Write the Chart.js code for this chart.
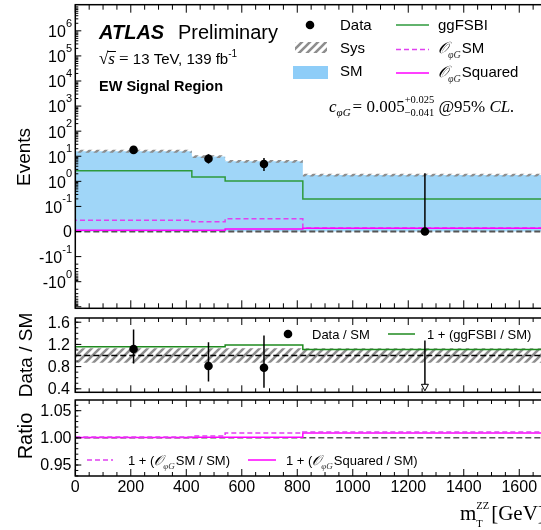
<!DOCTYPE html>
<html>
<head>
<meta charset="utf-8">
<script src="https://cdn.jsdelivr.net/npm/chart.js@4.4.1/dist/chart.umd.min.js"></script>
<style>
html, body { margin: 0; padding: 0; background: #fff; overflow: hidden; width: 541px; height: 530px; }
canvas { position: absolute; left: 0; top: 0; }
</style>
</head>
<body>
<canvas id="topPanel" width="600" height="530"></canvas>
<canvas id="midPanel" width="600" height="530"></canvas>
<canvas id="botPanel" width="600" height="530"></canvas>
<script>
// bins of m_T^ZZ [GeV]
const binEdges = [0, 420, 540, 820, 1700];
const binCenters = [210, 480, 680, 1260];

// top panel, events
const dataEvents = [17.9, 7.9, 4.9, 0];
const dataErrUp = [5.6, 4.2, 3.7, 2.1];
const dataErrDown = [4.2, 2.7, 2.3, 0];
const smEvents = [16.0, 9.8, 6.3, 1.79];
const ggFSBI = [2.65, 1.49, 1.03, 0.197];
const opgSM = [0.045, 0.039, 0.051, 0.014];
const opgSquared = [0.005, 0.005, 0.010, 0.013];
const sysRel = [0.13, 0.13, 0.13, 0.13];

// middle panel, data / SM
const ratioData = [1.117, 0.81, 0.78, 0];
const ratioErrUp = [0.35, 0.43, 0.58, 1.27];
const ratioErrDown = [0.26, 0.28, 0.36, 0];
const ratioGG = [1.16, 1.16, 1.19, 1.11];

// bottom panel
const ratioOpgSM = [1.0015, 1.0033, 1.0088, 1.0107];
const ratioOpgSq = [1.0008, 1.0012, 1.0012, 1.0088];

// ticks
const xMajor = [0, 200, 400, 600, 800, 1000, 1200, 1400, 1600];
const xMinorStep = 50;
const topYTicks = [-1, -0.1, 0, 0.1, 1, 10, 100, 1e3, 1e4, 1e5, 1e6];
const topYLabels = ['-10^0', '-10^-1', '0', '10^-1', '10^0', '10^1', '10^2', '10^3', '10^4', '10^5', '10^6'];
const midYTicks = [0.4, 0.8, 1.2, 1.6];
const midYLabels = ['0.4', '0.8', '1.2', '1.6'];
const botYTicks = [0.95, 1.0, 1.05];
const botYLabels = ['0.95', '1.00', '1.05'];

const SANS = '"Liberation Sans", Arial, sans-serif';
const SERIF = '"Liberation Serif", "Times New Roman", serif';
const fa = (px, st = '') => st + ' ' + px + 'px ' + SANS;
const fr = (px, st = '') => st + ' ' + px + 'px ' + SERIF;

const GREEN = '#2e9a3c';
const MAG = '#ff00ff';
const MAGD = '#e040f0';
const BLUE = 'rgb(160,214,248)';

// symmetric log scale (linear between -0.1 and 0.1)
const LIN = 0.1;
function symlog(v) {
    const a = Math.abs(v);
    return a <= LIN ? v / LIN : Math.sign(v) * (Math.log10(a / LIN) + 1);
}
function symexp(t) {
    const a = Math.abs(t);
    return a <= 1 ? t * LIN : Math.sign(t) * LIN * Math.pow(10, a - 1);
}
class SymlogScale extends Chart.Scale {
    static id = 'symlog';
    static defaults = {};
    determineDataLimits() {
        this.min = this.options.min;
        this.max = this.options.max;
    }
    buildTicks() {
        return [{value: this.min}, {value: this.max}];
    }
    configure() {
        super.configure();
        this._a = symlog(this.min);
        this._b = symlog(this.max);
    }
    getLabelForValue(v) { return String(v); }
    getPixelForValue(v) {
        return this.getPixelForDecimal((symlog(v) - this._a) / (this._b - this._a));
    }
    getValueForPixel(p) {
        return symexp(this._a + this.getDecimalForPixel(p) * (this._b - this._a));
    }
}
Chart.register(SymlogScale);

const hatch = (function () {
    const c = document.createElement('canvas');
    c.width = 8; c.height = 8;
    const g = c.getContext('2d');
    g.strokeStyle = '#8e8e8e';
    g.lineWidth = 2.6;
    g.beginPath();
    g.moveTo(-2, 10); g.lineTo(10, -2);
    g.moveTo(-2, 2); g.lineTo(2, -2);
    g.moveTo(6, 10); g.lineTo(10, 6);
    g.stroke();
    return g.createPattern(c, 'repeat');
})();

function stepPts(vals, fromZero) {
    const pts = fromZero ? [{x: binEdges[0], y: 0}] : [];
    vals.forEach((v, i) => pts.push({x: binEdges[i], y: v}));
    pts.push({x: binEdges[vals.length], y: vals[vals.length - 1]});
    return pts;
}

// text with sub/superscripts
function rich(ctx, runs, x, y, align) {
    ctx.save();
    ctx.textBaseline = 'alphabetic';
    ctx.textAlign = 'left';
    const ws = runs.map(r => {
        ctx.font = r.f;
        const w = r.stack ? Math.max(...r.stack.map(s => ctx.measureText(s).width)) : ctx.measureText(r.t).width;
        return w + (r.sp || 0);
    });
    const total = ws.reduce((s, w) => s + w, 0);
    let cx = align === 'right' ? x - total : align === 'center' ? x - total / 2 : x;
    runs.forEach((r, i) => {
        ctx.font = r.f;
        ctx.fillStyle = r.c || '#000';
        if (r.stack) {
            ctx.fillText(r.stack[0], cx, y + r.dy[0]);
            ctx.fillText(r.stack[1], cx, y + r.dy[1]);
        } else {
            ctx.fillText(r.t, cx, y + (r.dy || 0));
        }
        cx += ws[i];
    });
    ctx.restore();
    return total;
}
function opg(sz) {
    return [
        {t: '𝒪', f: 'italic ' + sz + 'px "DejaVu Serif", "DejaVu Sans", serif'},
        {t: 'φG', f: fr(Math.round(sz * 0.62), 'italic'), dy: sz * 0.3, c: '#333', sp: 1}
    ];
}
function vtext(ctx, text, font, x, cy) {
    ctx.save();
    ctx.translate(x, cy);
    ctx.rotate(-Math.PI / 2);
    ctx.font = font;
    ctx.textAlign = 'center';
    ctx.textBaseline = 'alphabetic';
    ctx.fillStyle = '#000';
    ctx.fillText(text, 0, 0);
    ctx.restore();
}
function hline(ctx, x0, x1, y, color, w, dash) {
    ctx.save();
    ctx.strokeStyle = color; ctx.lineWidth = w;
    ctx.setLineDash(dash || []);
    ctx.beginPath(); ctx.moveTo(x0, y); ctx.lineTo(x1, y); ctx.stroke();
    ctx.restore();
}
function dot(ctx, x, y) {
    ctx.beginPath(); ctx.arc(x, y, 4.3, 0, Math.PI * 2);
    ctx.fillStyle = '#000'; ctx.fill();
}

// frame, inward ticks and tick labels
function drawFrame(chart, cfg) {
    const {ctx, chartArea: a, scales: {x, y}} = chart;
    ctx.save();
    ctx.strokeStyle = '#000';
    ctx.lineWidth = 1;
    ctx.beginPath();
    for (let v = 0; v <= x.max; v += xMinorStep) {
        const px = x.getPixelForValue(v);
        const len = xMajor.includes(v) ? cfg.xMaj : cfg.xMin;
        ctx.moveTo(px, a.bottom); ctx.lineTo(px, a.bottom - len);
        ctx.moveTo(px, a.top); ctx.lineTo(px, a.top + len);
    }
    cfg.yTicks.forEach(([v, len]) => {
        const py = y.getPixelForValue(v);
        if (py < a.top || py > a.bottom) return;
        ctx.moveTo(a.left, py); ctx.lineTo(a.left + len, py);
        ctx.moveTo(a.right, py); ctx.lineTo(a.right - len, py);
    });
    ctx.stroke();
    ctx.lineWidth = 1.5;
    ctx.strokeRect(a.left, a.top, a.right - a.left, a.bottom - a.top);

    ctx.fillStyle = '#000';
    ctx.textBaseline = 'middle';
    cfg.yVals.forEach((v, i) => {
        const py = y.getPixelForValue(v);
        const parts = cfg.yLabels[i].split('^');
        if (parts.length === 1) {
            ctx.font = fa(16);
            ctx.textAlign = 'right';
            ctx.fillText(parts[0], cfg.labelRight, py + 1);
        } else {
            ctx.font = fa(11);
            const we = ctx.measureText(parts[1]).width;
            ctx.textAlign = 'right';
            ctx.fillText(parts[1], cfg.labelRight, py - 7);
            ctx.font = fa(16);
            ctx.fillText(parts[0], cfg.labelRight - we, py + 2);
        }
    });
    if (cfg.xLabels) {
        ctx.font = fa(16);
        ctx.textAlign = 'center';
        xMajor.forEach(v => ctx.fillText(String(v), x.getPixelForValue(v), 488));
    }
    ctx.restore();
}

function yTickList(majors, minors, maj, min) {
    return majors.map(v => [v, maj]).concat(minors.map(v => [v, min]));
}
const topMinor = [];
[-1, 0, 1, 2, 3, 4, 5, 6].forEach(k => {
    for (let m = 2; m <= 9; m++) topMinor.push(m * Math.pow(10, k));
});
[-1, 0].forEach(k => {
    for (let m = 2; m <= 9; m++) topMinor.push(-m * Math.pow(10, k));
});
const midMinor = [0.4, 0.5, 0.6, 0.7, 0.8, 0.9, 1.0, 1.1, 1.2, 1.3, 1.4, 1.5, 1.6];
const botMinor = [0.93, 0.94, 0.95, 0.96, 0.97, 0.98, 0.99, 1.0, 1.01, 1.02, 1.03, 1.04, 1.05, 1.06, 1.07];

function baseOptions(yScale, pad) {
    return {
        responsive: false,
        animation: false,
        events: [],
        layout: {padding: pad},
        elements: {point: {radius: 0}},
        plugins: {legend: {display: false}, tooltip: {enabled: false}},
        scales: {
            x: {type: 'linear', min: 0, max: 1700, display: false},
            y: yScale
        }
    };
}

// ---------------- top panel ----------------
new Chart(document.getElementById('topPanel').getContext('2d'), {
    type: 'line',
    data: {
        datasets: [
            {label: 'Data', data: binCenters.map((x, i) => ({x: x, y: dataEvents[i]})), showLine: false,
             pointRadius: 4.3, pointBackgroundColor: '#000', pointBorderWidth: 0, order: 0},
            {label: 'OpgSquared', data: stepPts(opgSquared, true), stepped: true, borderColor: MAG, borderWidth: 1.5, order: 1},
            {label: 'OpgSM', data: stepPts(opgSM, true), stepped: true, borderColor: MAGD, borderWidth: 1.5, borderDash: [5, 3], order: 2},
            {label: 'ggFSBI', data: stepPts(ggFSBI, true), stepped: true, borderColor: GREEN, borderWidth: 1.5, order: 3},
            {label: 'zero', data: [{x: 0, y: 0}, {x: 1700, y: 0}], borderColor: '#555', borderWidth: 2, borderDash: [6, 3], order: 4},
            {label: 'SysUp', data: stepPts(smEvents.map((v, i) => v * (1 + sysRel[i]))), stepped: true,
             borderWidth: 0, borderColor: 'transparent', backgroundColor: hatch, fill: '+1', order: 5},
            {label: 'SysDown', data: stepPts(smEvents.map((v, i) => v * (1 - sysRel[i]))), stepped: true,
             borderWidth: 0, borderColor: 'transparent', fill: false, order: 5},
            {label: 'SM', data: stepPts(smEvents), stepped: true, borderWidth: 0, borderColor: 'transparent',
             backgroundColor: BLUE, fill: 'origin', order: 6}
        ]
    },
    options: baseOptions({type: 'symlog', min: -11.5, max: 1.1e7, display: false},
                         {left: 75.3, top: 4.7, right: 53, bottom: 221.7}),
    plugins: [{
        id: 'topDecor',
        afterDatasetsDraw(chart) {
            const {ctx, chartArea: a, scales: {x, y}} = chart;
            ctx.save();
            ctx.beginPath(); ctx.rect(a.left, a.top, a.right - a.left, a.bottom - a.top); ctx.clip();
            ctx.strokeStyle = '#000'; ctx.lineWidth = 1.5;
            ctx.beginPath();
            binCenters.forEach((c, i) => {
                const px = x.getPixelForValue(c);
                ctx.moveTo(px, y.getPixelForValue(dataEvents[i] + dataErrUp[i]));
                ctx.lineTo(px, y.getPixelForValue(dataEvents[i] - dataErrDown[i]));
            });
            ctx.stroke();
            ctx.restore();
        },
        afterDraw(chart) {
            const ctx = chart.ctx;
            drawFrame(chart, {xMaj: 8, xMin: 5, yTicks: yTickList(topYTicks.concat([-10]), topMinor, 6, 3),
                              yVals: topYTicks, yLabels: topYLabels, labelRight: 72, xLabels: false});
            vtext(ctx, 'Events', fa(19), 30, 157);

            rich(ctx, [{t: 'ATLAS', f: fa(20, 'italic bold')}], 99, 38.5);
            rich(ctx, [{t: 'Preliminary', f: fa(20)}], 178, 38.5);

            ctx.save();
            ctx.font = fr(17);
            const wr = ctx.measureText('√').width;
            ctx.font = fr(17, 'italic');
            const wsq = ctx.measureText('s').width;
            hline(ctx, 99 + wr - 1, 99 + wr + wsq + 1, 51.5, '#000', 1);
            ctx.restore();
            rich(ctx, [{t: '√', f: fr(17)}, {t: 's', f: fr(17, 'italic'), sp: 4}, {t: '= ', f: fr(17)},
                       {t: '13 TeV, 139 fb', f: fa(15)}, {t: '-1', f: fa(10), dy: -7}], 99, 64);
            rich(ctx, [{t: 'EW Signal Region', f: fa(14.5, 'bold')}], 99, 91);

            // legend
            dot(ctx, 310, 25);
            rich(ctx, [{t: 'Data', f: fa(15)}], 340, 30);
            ctx.fillStyle = hatch; ctx.fillRect(295, 42, 32, 11);
            rich(ctx, [{t: 'Sys', f: fa(15)}], 340, 53);
            ctx.fillStyle = 'rgb(142,205,248)'; ctx.fillRect(293, 66, 35, 13);
            rich(ctx, [{t: 'SM', f: fa(15)}], 340, 76);
            hline(ctx, 396, 429, 25, GREEN, 1.5);
            rich(ctx, [{t: 'ggFSBI', f: fa(15)}], 438, 30);
            hline(ctx, 396, 429, 49.5, MAGD, 1.5, [5, 3]);
            rich(ctx, opg(16).concat([{t: 'SM', f: fa(15)}]), 438, 53);
            hline(ctx, 396, 429, 73, MAG, 1.5);
            rich(ctx, opg(16).concat([{t: 'Squared', f: fa(15)}]), 438, 77);

            rich(ctx, [{t: 'c', f: fr(17, 'italic')}, {t: 'φG', f: fr(11, 'italic'), dy: 4, sp: 2},
                       {t: '= 0.005', f: fr(17)}, {stack: ['+0.025', '−0.041'], f: fr(10.5), dy: [-9, 4]},
                       {t: ' @95% ', f: fr(17)}, {t: 'CL.', f: fr(17, 'italic')}], 329, 112);
        }
    }]
});

// ---------------- middle panel ----------------
new Chart(document.getElementById('midPanel').getContext('2d'), {
    type: 'line',
    data: {
        datasets: [
            {label: 'Data / SM', data: binCenters.map((x, i) => ({x: x, y: ratioData[i]})), showLine: false,
             pointRadius: 4.3, pointBackgroundColor: '#000', pointBorderWidth: 0, order: 0},
            {label: '1 + (ggFSBI / SM)', data: stepPts(ratioGG), stepped: true, borderColor: '#1f8a1f', borderWidth: 1.5, order: 1},
            {label: 'one', data: [{x: 0, y: 1}, {x: 1700, y: 1}], borderColor: '#000', borderWidth: 1.5, borderDash: [6, 3], order: 2},
            {label: 'SysUp', data: stepPts(sysRel.map(s => 1 + s)), stepped: true, borderWidth: 0,
             borderColor: 'transparent', backgroundColor: hatch, fill: '+1', order: 3},
            {label: 'SysDown', data: stepPts(sysRel.map(s => 1 - s)), stepped: true, borderWidth: 0,
             borderColor: 'transparent', fill: false, order: 3}
        ]
    },
    options: baseOptions({type: 'linear', min: 0.337, max: 1.676, display: false},
                         {left: 75.3, top: 318, right: 53, bottom: 137.7}),
    plugins: [{
        id: 'midDecor',
        afterDatasetsDraw(chart) {
            const {ctx, chartArea: a, scales: {x, y}} = chart;
            ctx.save();
            ctx.beginPath(); ctx.rect(a.left, a.top, a.right - a.left, a.bottom - a.top); ctx.clip();
            ctx.strokeStyle = '#000'; ctx.lineWidth = 1.5;
            binCenters.forEach((c, i) => {
                const px = x.getPixelForValue(c);
                const top = y.getPixelForValue(ratioData[i] + ratioErrUp[i]);
                if (ratioData[i] < y.min) {
                    ctx.beginPath(); ctx.moveTo(px, top); ctx.lineTo(px, a.bottom - 8); ctx.stroke();
                    ctx.beginPath();
                    ctx.moveTo(px - 3.5, a.bottom - 8); ctx.lineTo(px + 3.5, a.bottom - 8); ctx.lineTo(px, a.bottom - 1.5);
                    ctx.closePath();
                    ctx.fillStyle = '#fff'; ctx.fill();
                    ctx.lineWidth = 1; ctx.stroke(); ctx.lineWidth = 1.5;
                } else {
                    ctx.beginPath(); ctx.moveTo(px, top);
                    ctx.lineTo(px, y.getPixelForValue(ratioData[i] - ratioErrDown[i])); ctx.stroke();
                }
            });
            ctx.restore();
        },
        afterDraw(chart) {
            const ctx = chart.ctx;
            drawFrame(chart, {xMaj: 7, xMin: 4, yTicks: yTickList(midYTicks, midMinor, 6, 3),
                              yVals: midYTicks, yLabels: midYLabels, labelRight: 70, xLabels: false});
            vtext(ctx, 'Data / SM', fa(19), 31.5, 355);
            dot(ctx, 288, 334);
            rich(ctx, [{t: 'Data / SM', f: fa(13)}], 312, 339);
            hline(ctx, 388, 415, 334, '#1f8a1f', 1.5);
            rich(ctx, [{t: '1 + (ggFSBI / SM)', f: fa(13)}], 427, 339);
        }
    }]
});

// ---------------- bottom panel ----------------
new Chart(document.getElementById('botPanel').getContext('2d'), {
    type: 'line',
    data: {
        datasets: [
            {label: '1 + (OpgSM / SM)', data: stepPts(ratioOpgSM), stepped: true, borderColor: MAGD, borderWidth: 1.5, borderDash: [5, 3], order: 0},
            {label: '1 + (OpgSquared / SM)', data: stepPts(ratioOpgSq), stepped: true, borderColor: MAG, borderWidth: 1.5, order: 1},
            {label: 'one', data: [{x: 0, y: 1}, {x: 1700, y: 1}], borderColor: '#555', borderWidth: 1.5, borderDash: [6, 3], order: 2}
        ]
    },
    options: baseOptions({type: 'linear', min: 0.9298, max: 1.0697, display: false},
                         {left: 75.3, top: 400, right: 53, bottom: 54}),
    plugins: [{
        id: 'botDecor',
        afterDraw(chart) {
            const ctx = chart.ctx;
            drawFrame(chart, {xMaj: 7, xMin: 4, yTicks: yTickList(botYTicks, botMinor, 6, 3),
                              yVals: botYTicks, yLabels: botYLabels, labelRight: 71.5, xLabels: true});
            vtext(ctx, 'Ratio', fa(20), 32, 436);
            hline(ctx, 87, 113, 460, MAGD, 1.5, [5, 3]);
            rich(ctx, [{t: '1 + (', f: fa(13)}].concat(opg(14)).concat([{t: 'SM / SM)', f: fa(13)}]), 128, 465);
            hline(ctx, 248, 276, 460, MAG, 1.5);
            rich(ctx, [{t: '1 + (', f: fa(13)}].concat(opg(14)).concat([{t: 'Squared / SM)', f: fa(13)}]), 286, 465);
            rich(ctx, [{t: 'm', f: fr(21)}, {stack: ['ZZ', 'T'], f: fr(10.5), dy: [-11, 7], sp: 2}, {t: '[GeV]', f: fr(21)}], 460, 520);
        }
    }]
});
</script>
</body>
</html>
